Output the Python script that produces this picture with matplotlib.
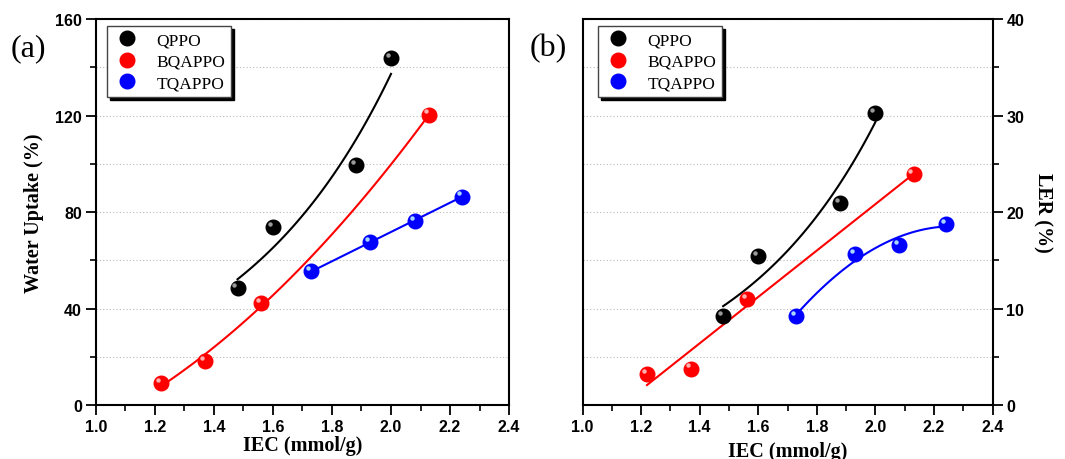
import numpy as np
import matplotlib
matplotlib.use("Agg")
import matplotlib.pyplot as plt
from matplotlib.ticker import MultipleLocator
from matplotlib.transforms import offset_copy

# data
iec_qppo = [1.48, 1.60, 1.88, 2.00]
iec_bqappo = [1.22, 1.37, 1.56, 2.13]
iec_tqappo = [1.73, 1.93, 2.08, 2.24]

wu_qppo = [48.5, 74.0, 99.5, 144.0]
wu_bqappo = [9.0, 18.5, 42.5, 120.5]
wu_tqappo = [55.5, 67.5, 76.5, 86.5]

ler_qppo = [9.2, 15.5, 21.0, 30.3]
ler_bqappo = [3.2, 3.8, 11.0, 24.0]
ler_tqappo = [9.2, 15.7, 16.6, 18.8]

names = ["QPPO", "BQAPPO", "TQAPPO"]
colors = ["black", "#ff0000", "#0000ff"]
shine = ["#9a9a9a", "#ffb0b0", "#a8d8ff"]

SERIF = "Liberation Serif"
SANS = "Liberation Sans"


def fit_curve(x, y, kind):
    x = np.asarray(x)
    y = np.asarray(y)
    xs = np.linspace(x.min(), x.max(), 100)
    if kind == "exp":
        p = np.polyfit(x, np.log(y), 1)
        return xs, np.exp(np.polyval(p, xs))
    deg = 1 if kind == "lin" else 2
    p = np.polyfit(x, y, deg)
    return xs, np.polyval(p, xs)


def spheres(ax, fig, x, y, c, s, label):
    ax.plot(x, y, "o", color=c, ms=10.5, mec=c, label=label, zorder=4)
    tr = offset_copy(ax.transData, fig=fig, x=-2.2, y=2.2, units="points")
    ax.plot(x, y, "o", color=s, ms=3.2, mec="none", transform=tr, zorder=5)


def style(ax, ymax, ymaj, ymin, right=False):
    ax.set_xlim(1.0, 2.4)
    ax.set_ylim(0, ymax)
    ax.xaxis.set_major_locator(MultipleLocator(0.2))
    ax.xaxis.set_minor_locator(MultipleLocator(0.1))
    ax.yaxis.set_major_locator(MultipleLocator(ymaj))
    ax.yaxis.set_minor_locator(MultipleLocator(ymin))
    ax.yaxis.grid(True, which="both", ls=(0, (1, 2)), color="#bbbbbb", lw=0.8)
    ax.set_axisbelow(True)
    for sp in ax.spines.values():
        sp.set_linewidth(1.5)
    ax.tick_params(which="major", direction="out", length=7, width=1.3, pad=3)
    ax.tick_params(which="minor", direction="out", length=4, width=1.2)
    if right:
        ax.yaxis.tick_right()
        ax.yaxis.set_label_position("right")
    for lab in ax.get_xticklabels() + ax.get_yticklabels():
        lab.set_fontfamily(SANS)
        lab.set_fontweight("bold")
        lab.set_fontsize(11.5)


fig = plt.figure(figsize=(10.65, 4.6), dpi=100)
ax1 = fig.add_axes([0.090, 0.117, 0.388, 0.839])
ax2 = fig.add_axes([0.547, 0.117, 0.385, 0.839])

# (a) water uptake
left_sets = [(iec_qppo, wu_qppo, "exp"), (iec_bqappo, wu_bqappo, "quad"),
             (iec_tqappo, wu_tqappo, "lin")]
for (x, y, kind), n, c, s in zip(left_sets, names, colors, shine):
    xs, ys = fit_curve(x, y, kind)
    ax1.plot(xs, ys, color=c, lw=1.5, zorder=3)
    spheres(ax1, fig, x, y, c, s, n)
style(ax1, 160, 40, 20)
ax1.set_ylabel("Water Uptake (%)", fontfamily=SERIF, fontweight="bold",
               fontsize=14.5, labelpad=8)
ax1.set_xlabel("IEC (mmol/g)", fontfamily=SERIF, fontweight="bold",
               fontsize=14.5, labelpad=1)

# (b) LER
right_sets = [(iec_qppo, ler_qppo, "exp"), (iec_bqappo, ler_bqappo, "lin"),
              (iec_tqappo, ler_tqappo, "quad")]
for (x, y, kind), n, c, s in zip(right_sets, names, colors, shine):
    xs, ys = fit_curve(x, y, kind)
    ax2.plot(xs, ys, color=c, lw=1.5, zorder=3)
    spheres(ax2, fig, x, y, c, s, n)
style(ax2, 40, 10, 5, right=True)
ax2.set_ylabel("LER (%)", fontfamily=SERIF, fontweight="bold",
               fontsize=14.5, rotation=-90, labelpad=20)
ax2.set_xlabel("IEC (mmol/g)", fontfamily=SERIF, fontweight="bold",
               fontsize=14.5, labelpad=5)

for ax, anchor in [(ax1, (0.027, 0.982)), (ax2, (0.037, 0.982))]:
    leg = ax.legend(loc="upper left", bbox_to_anchor=anchor, borderaxespad=0,
                    fancybox=False, shadow={"color": "black", "alpha": 1},
                    prop={"family": SERIF, "size": 12.5}, handletextpad=0.9,
                    labelspacing=0.3, borderpad=0.35, handlelength=1.6,
                    edgecolor="#444444", framealpha=1)
    leg.get_frame().set_linewidth(1.0)

fig.text(0.010, 0.878, "(a)", fontfamily=SERIF, fontsize=23, va="baseline")
fig.text(0.497, 0.878, "(b)", fontfamily=SERIF, fontsize=23, va="baseline")

fig.savefig("out.png", dpi=100)
